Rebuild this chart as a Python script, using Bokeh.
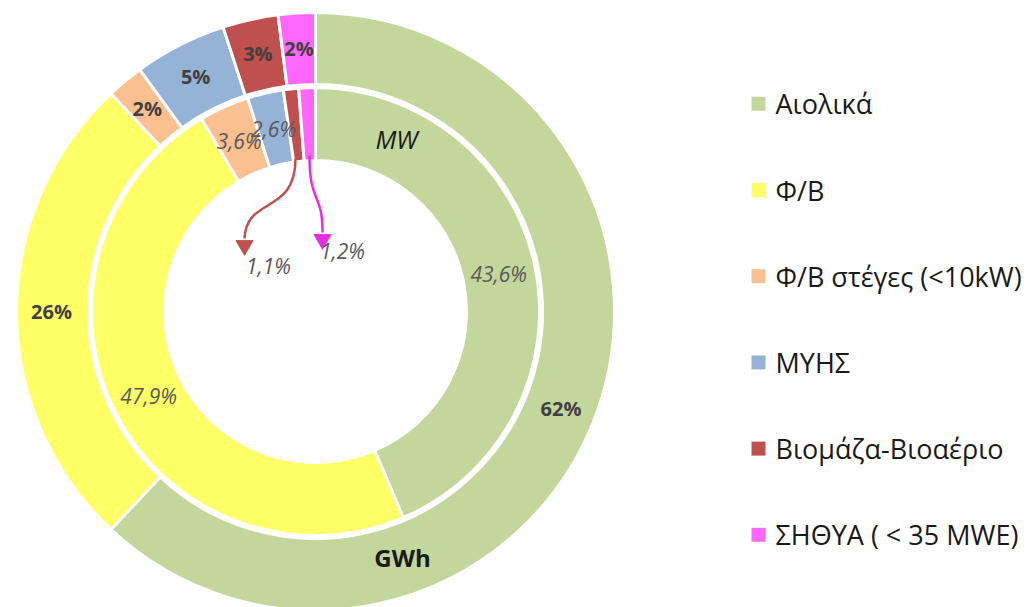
import numpy as np
from bokeh.plotting import figure
from bokeh.models import Range1d, ColumnDataSource
from bokeh.core.properties import value
from bokeh.embed import file_html
from bokeh.resources import INLINE

# ---------------- data ----------------
categories = ["Αιολικά", "Φ/Β", "Φ/Β στέγες (<10kW)", "ΜΥΗΣ", "Βιομάζα-Βιοαέριο", "ΣΗΘΥΑ ( < 35 MWE)"]
colors = ["#C3D69B", "#FFFF66", "#FAC090", "#95B3D7", "#C0504D", "#FF66FF"]
gwh_share = [62, 26, 2, 5, 3, 2]            # outer ring (GWh)
mw_share = [43.6, 47.9, 3.6, 2.6, 1.1, 1.2]  # inner ring (MW)
gwh_labels = ["62%", "26%", "2%", "5%", "3%", "2%"]
mw_labels = ["43,6%", "47,9%", "3,6%", "2,6%", "1,1%", "1,2%"]

FONT = value("Open Sans")

W, H = 1028, 607
p = figure(width=W, height=H, output_backend="svg", toolbar_location=None,
           x_range=Range1d(0, W), y_range=Range1d(-H, 0),
           min_border=0)
p.axis.visible = False
p.grid.visible = False
p.outline_line_color = None
p.background_fill_color = "white"
p.border_fill_color = "white"

cx, cy = 315, -311


def ring(vals, r_in, r_out):
    v = np.array(vals, dtype=float)
    cum = np.concatenate([[0], np.cumsum(v)]) / v.sum() * 2 * np.pi
    t1, t2 = cum[:-1], cum[1:]
    src = ColumnDataSource(dict(start=np.pi / 2 - t2, end=np.pi / 2 - t1,
                                color=colors, mid=(t1 + t2) / 2))
    p.annular_wedge(x=cx, y=cy, inner_radius=r_in, outer_radius=r_out,
                    start_angle="start", end_angle="end", fill_color="color",
                    line_color="white", line_width=3, source=src)
    return (t1 + t2) / 2


mid_out = ring(gwh_share, 227, 299)
mid_in = ring(mw_share, 151, 224)

# outer labels (bold)
r_lab = 264
p.text(x=list(cx + r_lab * np.sin(mid_out)), y=list(cy + r_lab * np.cos(mid_out)),
       text=gwh_labels, text_font=FONT, text_font_style="bold", text_font_size="20px",
       text_color="#404040", text_align="center", text_baseline="middle")

# inner labels (italic) - first four inside ring
r_lab2 = 187
p.text(x=list(cx + r_lab2 * np.sin(mid_in[:4])), y=list(cy + r_lab2 * np.cos(mid_in[:4])),
       text=mw_labels[:4], text_font=FONT, text_font_style="italic", text_font_size="21px",
       text_color="#595959", text_align="center", text_baseline="middle")

# small slices with arrows
p.bezier(x0=[295], y0=[-158], x1=[244], y1=[-238], cx0=[295], cy0=[-215],
         cx1=[246], cy1=[-195], line_color="#C0504D", line_width=2.5)
p.scatter(x=[244], y=[-245], marker="inverted_triangle", size=17,
          fill_color="#C0504D", line_color="#C0504D")
p.bezier(x0=[309], y0=[-155], x1=[322], y1=[-232], cx0=[309], cy0=[-205],
         cx1=[322], cy1=[-190], line_color="#E62EE6", line_width=2.5)
p.scatter(x=[322], y=[-239], marker="inverted_triangle", size=17,
          fill_color="#E62EE6", line_color="#E62EE6")
p.text(x=[268, 342], y=[-265, -250], text=mw_labels[4:], text_font=FONT,
       text_font_style="italic", text_font_size="21px", text_color="#595959",
       text_align="center", text_baseline="middle")

# ring titles
p.text(x=[396], y=[-138], text=["MW"], text_font=FONT, text_font_style="italic",
       text_font_size="25px", text_color="#1a1a1a", text_align="center", text_baseline="middle")
p.text(x=[402], y=[-557], text=["GWh"], text_font=FONT, text_font_style="bold",
       text_font_size="24px", text_color="#1a1a1a", text_align="center", text_baseline="middle")

# legend
ly = [-(103.3 + i * 86.2) for i in range(len(categories))]
p.rect(x=[758] * len(categories), y=ly, width=14, height=14,
       fill_color=colors, line_color=None)
p.text(x=[775] * len(categories), y=ly, text=categories, text_font=FONT,
       text_font_size="27px", text_color="#1a1a1a", text_align="left",
       text_baseline="middle")

open("out.html", "w").write(file_html(p, INLINE))
